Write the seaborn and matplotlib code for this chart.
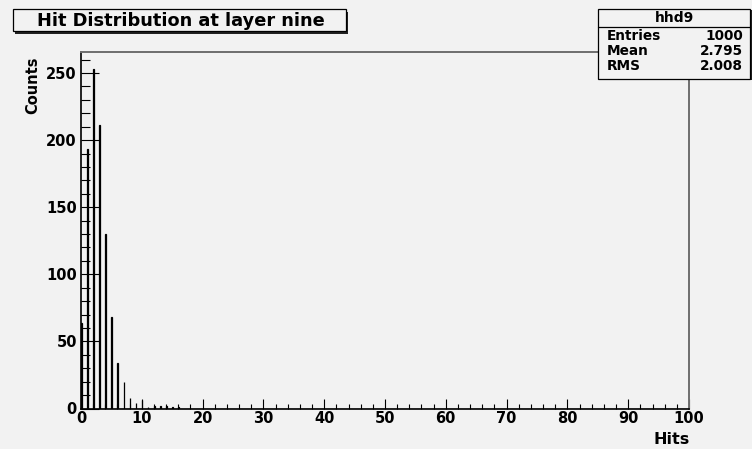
import numpy as np
import pandas as pd
import seaborn as sns
import matplotlib
matplotlib.use("Agg")
import matplotlib.pyplot as plt
from matplotlib.patches import Rectangle
from matplotlib.ticker import MultipleLocator

# Number of hits recorded at layer nine and how many events had each count
hit_values = [0, 1, 2, 3, 4, 5, 6, 7, 8, 9, 10, 11, 12, 13, 14, 15, 16]
event_counts = [64, 193, 253, 211, 130, 68, 34, 20, 8, 4, 6, 1, 2, 2, 2, 1, 1]

title_text = "Hit Distribution at layer nine"
hist_name = "hhd9"
stat_labels = ["Entries", "Mean", "RMS"]
stat_values = ["1000", "2.795", "2.008"]
x_label = "Hits"
y_label = "Counts"

W, H = 752, 449
BG = "#f2f2f2"

sns.set_style("white")
plt.rcParams["font.family"] = ["DejaVu Sans"]
plt.rcParams["font.weight"] = "bold"
plt.rcParams["text.color"] = "black"

fig = plt.figure(figsize=(W / 100, H / 100), dpi=100, facecolor=BG)


def fx(px):
    return px / W


def fy(py):
    return 1 - py / H


# frame of the histogram pad
left, right, top, bottom = 81, 689, 52, 408.5
ax = fig.add_axes([fx(left), fy(bottom), fx(right - left), (bottom - top) / H])
ax.set_facecolor(BG)

df = pd.DataFrame({"hits": hit_values, "events": event_counts})
sns.histplot(data=df, x="hits", weights="events", binwidth=0.1, binrange=(0, 100),
             stat="count", element="bars", fill=True, color="black",
             edgecolor="black", linewidth=0.9, alpha=1, ax=ax)

ax.set_xlim(0, 100)
ax.set_ylim(0, 1.05 * max(event_counts))
ax.set_xlabel("")
ax.set_ylabel("")

ax.xaxis.set_major_locator(MultipleLocator(10))
ax.xaxis.set_minor_locator(MultipleLocator(2))
ax.yaxis.set_major_locator(MultipleLocator(50))
ax.yaxis.set_minor_locator(MultipleLocator(10))
ax.tick_params(which="both", bottom=True, left=True, top=False, right=False)
ax.tick_params(axis="x", which="major", direction="in", length=7.2, width=0.8,
               color="black", labelsize=10.5, pad=1.5)
ax.tick_params(axis="x", which="minor", direction="in", length=3.4, width=0.8, color="black")
ax.tick_params(axis="y", which="major", direction="in", length=13, width=0.8,
               color="black", labelsize=10.5, pad=3)
ax.tick_params(axis="y", which="minor", direction="in", length=6.5, width=0.8, color="black")
for lab in ax.get_xticklabels() + ax.get_yticklabels():
    lab.set_fontweight("bold")
    lab.set_color("black")

for side in ("left", "bottom"):
    ax.spines[side].set_color("black")
    ax.spines[side].set_linewidth(1.2)
for side in ("top", "right"):
    ax.spines[side].set_color("#6e6e6e")
    ax.spines[side].set_linewidth(1.4)

# axis titles
fig.text(fx(33), fy(56), y_label, rotation=90, ha="center", va="top",
         fontsize=10.5, fontweight="bold", color="black",
         family=["Liberation Sans Narrow", "DejaVu Sans"])
fig.text(fx(689.5), fy(439), x_label, ha="right", va="center",
         fontsize=11.5, fontweight="bold", color="black")


def framed_box(x0, y0, x1, y1, shadow=2.5):
    # drop shadow then the box itself, in pixel coordinates
    fig.patches.append(Rectangle((fx(x0 + shadow), fy(y1 + shadow)),
                                 fx(x1 - x0), (y1 - y0) / H,
                                 transform=fig.transFigure, facecolor="#222222",
                                 edgecolor="none", zorder=5))
    fig.patches.append(Rectangle((fx(x0), fy(y1)), fx(x1 - x0), (y1 - y0) / H,
                                 transform=fig.transFigure, facecolor=BG,
                                 edgecolor="black", linewidth=0.9, zorder=6))


# title box
framed_box(12.5, 9.5, 345.5, 31)
fig.text(fx(181), fy(20.5), title_text, ha="center", va="center",
         fontsize=12.8, fontweight="bold", color="black", zorder=7)

# statistics box
sx0, sx1, sy0, sy1 = 598, 750, 9, 78.5
framed_box(sx0, sy0, sx1, sy1, shadow=1.5)
fig.lines.append(plt.Line2D([fx(sx0), fx(sx1)], [fy(26.5), fy(26.5)],
                            transform=fig.transFigure, color="black",
                            linewidth=0.9, zorder=7))
fig.text(fx((sx0 + sx1) / 2), fy(18), hist_name, ha="center", va="center",
         fontsize=10, fontweight="bold", color="black", zorder=7)
for i, (lab, val) in enumerate(zip(stat_labels, stat_values)):
    yy = 35.5 + i * 15.5
    fig.text(fx(607), fy(yy), lab, ha="left", va="center",
             fontsize=9.8, fontweight="bold", color="black", zorder=7)
    fig.text(fx(743), fy(yy), val, ha="right", va="center",
             fontsize=9.8, fontweight="bold", color="black", zorder=7)

fig.savefig("out.png", dpi=100, facecolor=BG)
